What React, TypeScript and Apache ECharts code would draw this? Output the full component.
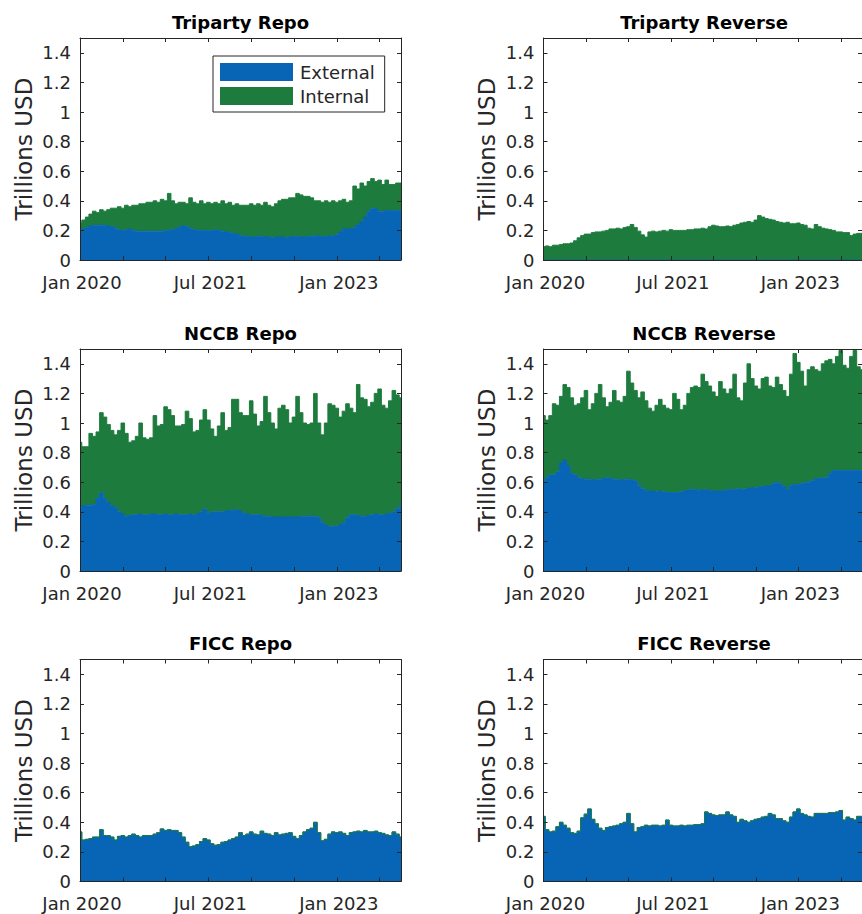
import React, { useEffect, useRef } from 'react';
import * as echarts from 'echarts';

// Semi-monthly observation dates, Jan 2020 .. Oct 2023 (category axis)
const dates: string[] = (() => {
  const out: string[] = [];
  for (let i = 0; i < 91; i++) {
    const mo = Math.floor(i / 2);
    const y = 2020 + Math.floor(mo / 12);
    const m = (mo % 12) + 1;
    out.push(`${y}-${String(m).padStart(2, '0')}-${i % 2 === 0 ? '01' : '16'}`);
  }
  return out;
})();

const xLabelDates = ['2020-01-01', '2021-07-01', '2023-01-01'];
const xTickLabels = ['Jan 2020', 'Jul 2021', 'Jan 2023'];
const yAxisName = 'Trillions USD';
const seriesNames = ['External', 'Internal'];
const panelTitles = ['Triparty Repo', 'Triparty Reverse', 'NCCB Repo', 'NCCB Reverse', 'FICC Repo', 'FICC Reverse'];

const tripartyRepoExternal = [
  .20, .21, .22, .23, .235, .235, .235, .235, .23, .225,
  .215, .205, .20, .205, .21, .20, .195, .195, .195, .195,
  .195, .195, .195, .195, .20, .20, .205, .21, .225, .23,
  .225, .215, .205, .20, .20, .20, .20, .20, .205, .20,
  .195, .19, .185, .18, .175, .165, .16, .16, .155, .155,
  .16, .16, .155, .155, .15, .155, .155, .155, .15, .155,
  .16, .16, .155, .155, .16, .16, .16, .165, .155, .16,
  .165, .16, .17, .19, .21, .21, .21, .22, .24, .26,
  .29, .33, .35, .345, .33, .33, .335, .335, .335, .335,
  .335,
];
const tripartyRepoInternal = [
  .05, .06, .07, .08, .095, .085, .105, .095, .11, .125,
  .135, .155, .15, .165, .15, .17, .175, .185, .185, .195,
  .195, .205, .195, .215, .20, .25, .195, .17, .165, .16,
  .155, .205, .185, .18, .20, .18, .19, .18, .185, .18,
  .205, .19, .205, .19, .205, .205, .21, .21, .225, .215,
  .22, .21, .235, .215, .21, .225, .245, .255, .26, .265,
  .26, .29, .285, .275, .27, .26, .24, .235, .235, .24,
  .225, .24, .22, .21, .20, .18, .19, .28, .24, .26,
  .21, .20, .20, .185, .21, .18, .205, .175, .175, .185,
  .185,
];
const tripartyReverseExternal = [
  0, 0, 0, 0, 0, 0, 0, 0, 0, 0,
  0, 0, 0, 0, 0, 0, 0, 0, 0, 0,
  0, 0, 0, 0, 0, 0, 0, 0, 0, 0,
  0, 0, 0, 0, 0, 0, 0, 0, 0, 0,
  0, 0, 0, 0, 0, 0, 0, 0, 0, 0,
  0, 0, 0, 0, 0, 0, 0, 0, 0, 0,
  0, 0, 0, 0, 0, 0, 0, 0, 0, 0,
  0, 0, 0, 0, 0, 0, 0, 0, 0, 0,
  0, 0, 0, 0, 0, 0, 0, 0, 0, 0,
  0,
];
const tripartyReverseInternal = [
  .09, .095, .09, .10, .10, .105, .11, .11, .115, .13,
  .15, .165, .175, .175, .185, .19, .19, .195, .20, .21,
  .21, .215, .21, .22, .225, .24, .22, .195, .17, .155,
  .19, .195, .19, .195, .20, .195, .205, .20, .20, .20,
  .20, .205, .205, .21, .21, .215, .21, .225, .235, .23,
  .225, .225, .23, .225, .235, .24, .25, .255, .26, .255,
  .27, .30, .29, .28, .275, .27, .26, .255, .25, .255,
  .245, .245, .25, .24, .235, .215, .21, .24, .225, .215,
  .21, .205, .20, .19, .19, .185, .185, .165, .175, .18,
  .18,
];
const nccbRepoExternal = [
  .43, .44, .445, .445, .45, .49, .53, .49, .46, .44,
  .43, .40, .385, .37, .375, .38, .38, .385, .38, .38,
  .385, .385, .38, .38, .385, .38, .38, .385, .38, .38,
  .38, .385, .38, .385, .40, .42, .39, .40, .40, .40,
  .40, .405, .41, .41, .415, .405, .39, .385, .38, .38,
  .38, .375, .37, .37, .365, .365, .365, .365, .365, .365,
  .365, .365, .37, .37, .37, .37, .37, .36, .33, .31,
  .30, .30, .305, .31, .33, .36, .38, .38, .375, .37,
  .37, .375, .38, .385, .38, .38, .385, .39, .40, .42,
  .445,
];
const nccbRepoInternal = [
  .44, .40, .395, .485, .46, .45, .54, .55, .53, .51,
  .49, .55, .615, .56, .495, .50, .53, .615, .52, .51,
  .515, .665, .60, .61, .725, .71, .67, .595, .60, .61,
  .70, .645, .56, .565, .62, .67, .63, .56, .51, .58,
  .67, .545, .56, .75, .745, .665, .66, .665, .77, .68,
  .60, .635, .81, .70, .635, .595, .735, .755, .725, .635,
  .675, .815, .70, .63, .62, .63, .83, .64, .59, .69,
  .83, .82, .795, .73, .75, .77, .72, .69, .885, .80,
  .79, .735, .76, .815, .85, .74, .715, .76, .82, .77,
  .725,
];
const nccbReverseExternal = [
  .60, .63, .65, .65, .67, .73, .75, .71, .66, .65,
  .63, .625, .62, .62, .615, .62, .62, .625, .63, .625,
  .62, .62, .615, .62, .62, .615, .61, .58, .555, .545,
  .54, .54, .535, .54, .535, .53, .53, .53, .53, .535,
  .54, .55, .55, .55, .545, .55, .55, .545, .54, .54,
  .54, .545, .55, .55, .55, .555, .55, .555, .56, .56,
  .565, .57, .57, .575, .575, .59, .60, .59, .57, .55,
  .58, .585, .585, .59, .60, .60, .61, .625, .625, .63,
  .63, .66, .68, .68, .68, .68, .68, .68, .68, .68,
  .68,
];
const nccbReverseInternal = [
  .45, .39, .40, .48, .45, .45, .51, .53, .51, .47,
  .50, .545, .60, .47, .515, .58, .64, .545, .48, .515,
  .60, .53, .525, .56, .73, .655, .61, .59, .655, .605,
  .56, .54, .585, .62, .585, .57, .56, .67, .63, .555,
  .58, .65, .69, .70, .695, .78, .73, .705, .67, .64,
  .74, .685, .65, .68, .78, .615, .60, .715, .84, .74,
  .685, .66, .73, .735, .675, .65, .71, .67, .65, .63,
  .75, .885, .825, .76, .65, .76, .77, .735, .725, .77,
  .79, .77, .72, .77, .81, .71, .69, .77, .81, .70,
  .68,
];
const ficcRepoExternal = [
  .335, .28, .285, .29, .30, .30, .35, .31, .31, .30,
  .28, .305, .31, .30, .31, .32, .31, .30, .31, .31,
  .31, .32, .33, .355, .345, .35, .345, .345, .33, .30,
  .265, .235, .24, .25, .27, .29, .28, .255, .245, .25,
  .265, .27, .28, .29, .30, .33, .31, .32, .335, .32,
  .315, .34, .325, .32, .31, .33, .315, .32, .325, .33,
  .305, .29, .31, .335, .35, .36, .40, .33, .275, .285,
  .32, .335, .33, .335, .325, .31, .33, .335, .34, .335,
  .345, .335, .335, .34, .33, .325, .315, .31, .335, .32,
  .30,
];
const ficcRepoInternal = [
  0, 0, 0, 0, 0, 0, 0, 0, 0, 0,
  0, 0, 0, 0, 0, 0, 0, 0, 0, 0,
  0, 0, 0, 0, 0, 0, 0, 0, 0, 0,
  0, 0, 0, 0, 0, 0, 0, 0, 0, 0,
  0, 0, 0, 0, 0, 0, 0, 0, 0, 0,
  0, 0, 0, 0, 0, 0, 0, 0, 0, 0,
  0, 0, 0, 0, 0, 0, 0, 0, 0, 0,
  0, 0, 0, 0, 0, 0, 0, 0, 0, 0,
  0, 0, 0, 0, 0, 0, 0, 0, 0, 0,
  0,
];
const ficcReverseExternal = [
  .44, .35, .335, .34, .37, .40, .38, .36, .33, .325,
  .34, .43, .455, .49, .42, .39, .36, .345, .365, .37,
  .375, .38, .39, .40, .46, .39, .335, .365, .37, .38,
  .375, .38, .38, .375, .38, .415, .38, .375, .375, .38,
  .375, .38, .38, .385, .385, .39, .47, .46, .45, .445,
  .45, .45, .47, .45, .44, .40, .42, .41, .40, .41,
  .42, .425, .435, .44, .46, .45, .425, .425, .41, .40,
  .435, .47, .49, .46, .45, .44, .435, .46, .46, .46,
  .46, .465, .465, .47, .48, .415, .435, .425, .415, .44,
  .44,
];
const ficcReverseInternal = [
  0, 0, 0, 0, 0, 0, 0, 0, 0, 0,
  0, 0, 0, 0, 0, 0, 0, 0, 0, 0,
  0, 0, 0, 0, 0, 0, 0, 0, 0, 0,
  0, 0, 0, 0, 0, 0, 0, 0, 0, 0,
  0, 0, 0, 0, 0, 0, 0, 0, 0, 0,
  0, 0, 0, 0, 0, 0, 0, 0, 0, 0,
  0, 0, 0, 0, 0, 0, 0, 0, 0, 0,
  0, 0, 0, 0, 0, 0, 0, 0, 0, 0,
  0, 0, 0, 0, 0, 0, 0, 0, 0, 0,
  0,
];

const panelData = [
  [tripartyRepoExternal, tripartyRepoInternal],
  [tripartyReverseExternal, tripartyReverseInternal],
  [nccbRepoExternal, nccbRepoInternal],
  [nccbReverseExternal, nccbReverseInternal],
  [ficcRepoExternal, ficcRepoInternal],
  [ficcReverseExternal, ficcReverseInternal],
];

const FONT = '"DejaVu Sans", sans-serif';
const BLUE = '#0865b5';
const GREEN = '#1d7b3d';
const AXIS = '#262626';
const COLORS = [BLUE, GREEN];

const GRID_LEFTS = [80, 543.5];
const GRID_TOPS = [38, 349, 659.5];
const GRID_W = 321;
const GRID_H = 222;

function buildOption() {
  const grid: any[] = [];
  const xAxis: any[] = [];
  const yAxis: any[] = [];
  const series: any[] = [];
  const graphic: any[] = [];

  panelTitles.forEach((title, k) => {
    const left = GRID_LEFTS[k % 2];
    const top = GRID_TOPS[Math.floor(k / 2)];
    grid.push({ left, top, width: GRID_W, height: GRID_H, show: false, containLabel: false });

    const xCommon = {
      type: 'category',
      gridIndex: k,
      data: dates,
      boundaryGap: false,
      z: 10,
      splitLine: { show: false },
      axisLine: { show: true, onZero: false, lineStyle: { color: AXIS, width: 1 } },
      axisTick: { show: true, inside: true, length: 4, interval: 11, lineStyle: { color: AXIS, width: 1 } },
    };
    xAxis.push({
      ...xCommon,
      position: 'bottom',
      axisLabel: {
        show: true,
        interval: 35,
        margin: 13,
        color: AXIS,
        fontFamily: FONT,
        fontSize: 18,
        padding: [0, 0, 0, 4],
        formatter: (v: string) => {
          const idx = xLabelDates.indexOf(v);
          return idx >= 0 ? xTickLabels[idx] : '';
        },
      },
    });
    xAxis.push({ ...xCommon, position: 'top', axisLabel: { show: false } });

    const yCommon = {
      type: 'value',
      gridIndex: k,
      min: 0,
      max: 1.5,
      interval: 0.2,
      z: 10,
      splitLine: { show: false },
      axisLine: { show: true, onZero: false, lineStyle: { color: AXIS, width: 1 } },
      axisTick: { show: true, inside: true, length: 4, lineStyle: { color: AXIS, width: 1 } },
    };
    yAxis.push({
      ...yCommon,
      position: 'left',
      name: yAxisName,
      nameLocation: 'middle',
      nameRotate: 90,
      nameGap: 45,
      nameTextStyle: { fontFamily: FONT, fontSize: 23, color: AXIS },
      axisLabel: {
        show: true,
        margin: 9,
        color: AXIS,
        fontFamily: FONT,
        fontSize: 18,
        padding: [5, 0, 0, 0],
        formatter: (v: number) => (v > 1.45 ? '' : String(Math.round(v * 10) / 10)),
      },
    });
    yAxis.push({ ...yCommon, position: 'right', axisLabel: { show: false } });

    panelData[k].forEach((values, s) => {
      series.push({
        name: seriesNames[s],
        type: 'line',
        xAxisIndex: 2 * k,
        yAxisIndex: 2 * k,
        stack: 'panel' + k,
        step: 'middle',
        symbol: 'none',
        showSymbol: false,
        silent: true,
        z: 2,
        lineStyle: { width: 1, color: COLORS[s] },
        itemStyle: { color: COLORS[s] },
        areaStyle: { color: COLORS[s], opacity: 1 },
        data: values,
      });
    });

    graphic.push({
      type: 'text',
      x: left + GRID_W / 2,
      y: top - 16,
      z: 20,
      style: {
        text: title,
        fontFamily: FONT,
        fontSize: 18,
        fontWeight: 'bold',
        fill: '#000',
        align: 'center',
        verticalAlign: 'middle',
      },
    });
  });

  return {
    animation: false,
    backgroundColor: '#fff',
    grid,
    xAxis,
    yAxis,
    series,
    graphic,
    legend: {
      show: true,
      orient: 'vertical',
      left: 213,
      top: 56,
      padding: [7, 10, 7, 7],
      itemWidth: 73,
      itemHeight: 18,
      itemGap: 6,
      icon: 'rect',
      borderColor: AXIS,
      borderWidth: 1,
      backgroundColor: '#fff',
      selectedMode: false,
      z: 20,
      textStyle: { fontFamily: FONT, fontSize: 18, color: AXIS, padding: [0, 0, 0, 2] },
      data: seriesNames,
    },
  };
}

export default function App() {
  const ref = useRef<HTMLDivElement>(null);
  useEffect(() => {
    if (!ref.current) return;
    const chart = echarts.init(ref.current, undefined, { renderer: 'svg' });
    chart.setOption(buildOption() as any);
    return () => chart.dispose();
  }, []);
  return (
    <div
      ref={ref}
      style={{ position: 'absolute', left: 0, top: 0, width: 862, height: 914, background: '#fff' }}
    />
  );
}
